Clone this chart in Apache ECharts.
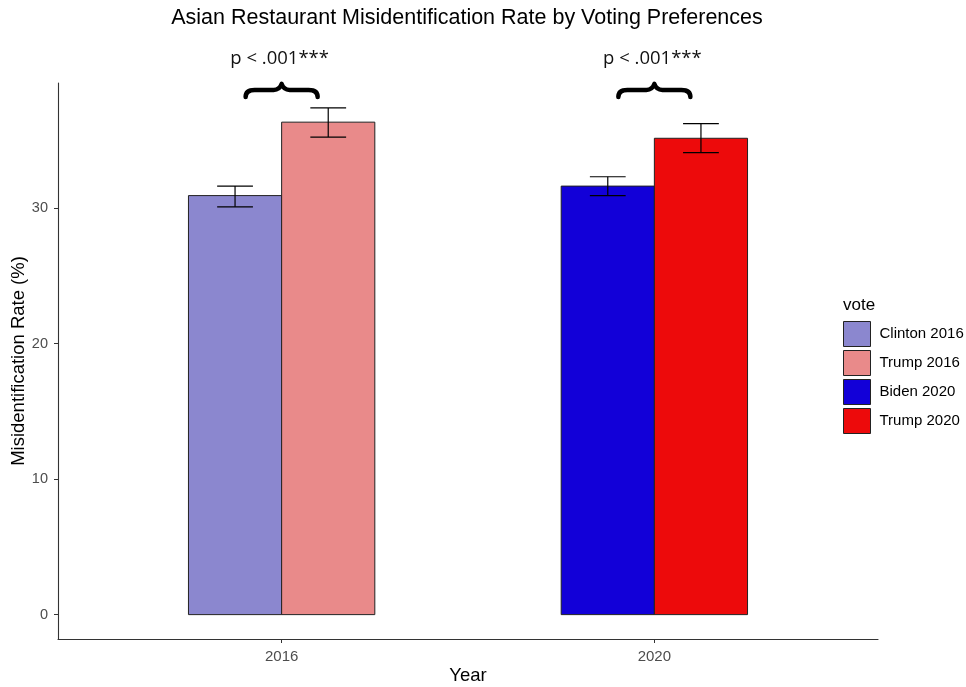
<!DOCTYPE html>
<html><head><meta charset="utf-8">
<script src="https://cdn.jsdelivr.net/npm/echarts@6/dist/echarts.min.js"></script>
<style>html,body{margin:0;padding:0;background:#fff}#c{width:966px;height:687px}</style>
</head><body><div id="c"></div>
<script>
const categories = ['2016', '2020'];
const groups = ['Clinton 2016', 'Trump 2016', 'Biden 2020', 'Trump 2020'];
const groupYear = [1, 1, 2, 2];
const groupSide = [-1, 1, -1, 1];
const means = [30.93, 36.35, 31.63, 35.16];
const lower = [30.1, 35.25, 30.92, 34.1];
const upper = [31.63, 37.4, 32.32, 36.24];
const colors = ['#8B87CF', '#E98A8A', '#1200D8', '#ED0A0B'];
const yTicks = [0, 10, 20, 30];
const pLabels = ['p < .001***', 'p < .001***'];

const BAR_W = 0.25, CAP_HALF = 0.048;
const font = 'Liberation Sans, Arial, sans-serif';

const series = groups.map((g, i) => ({
  type: 'custom', name: g, clip: false,
  itemStyle: { color: colors[i] },
  data: [[groupYear[i] + groupSide[i] * BAR_W / 2, means[i], lower[i], upper[i]]],
  renderItem: function (params, api) {
    const x = api.value(0), v = api.value(1), lo = api.value(2), hi = api.value(3);
    const p0 = api.coord([x - BAR_W / 2, 0]);
    const p1 = api.coord([x + BAR_W / 2, v]);
    const cL = api.coord([x - CAP_HALF, hi]), cR = api.coord([x + CAP_HALF, hi]);
    const dL = api.coord([x - CAP_HALF, lo]), dR = api.coord([x + CAP_HALF, lo]);
    const ls = { stroke: '#000', lineWidth: 1.2 };
    return { type: 'group', children: [
      { type: 'rect', shape: { x: p0[0], y: p1[1], width: p1[0] - p0[0], height: p0[1] - p1[1] },
        style: { fill: colors[i], stroke: '#222', lineWidth: 1 } },
      { type: 'line', shape: { x1: cL[0], y1: cL[1], x2: cR[0], y2: cR[1] }, style: ls },
      { type: 'line', shape: { x1: dL[0], y1: dL[1], x2: dR[0], y2: dR[1] }, style: ls },
      { type: 'line', shape: { x1: (cL[0] + cR[0]) / 2, y1: cL[1], x2: (cL[0] + cR[0]) / 2, y2: dL[1] }, style: ls }
    ]};
  }
}));

series.push({
  type: 'custom', name: 'annot', clip: false, silent: true,
  data: categories.map((c, i) => [i + 1, 38.73, i]),
  renderItem: function (params, api) {
    const c = api.coord([api.value(0), api.value(1)]);
    const cx = c[0], cy = c[1];
    const path = 'M' + (cx - 36) + ',' + (cy + 7) +
      ' Q' + (cx - 36) + ',' + cy + ' ' + (cx - 27) + ',' + cy +
      ' L' + (cx - 8) + ',' + cy +
      ' Q' + (cx - 2) + ',' + cy + ' ' + cx + ',' + (cy - 6) +
      ' Q' + (cx + 2) + ',' + cy + ' ' + (cx + 8) + ',' + cy +
      ' L' + (cx + 27) + ',' + cy +
      ' Q' + (cx + 36) + ',' + cy + ' ' + (cx + 36) + ',' + (cy + 7);
    return { type: 'group', children: [
      { type: 'path', shape: { pathData: path }, style: { fill: 'none', stroke: '#000', lineWidth: 4.5, lineCap: 'round', lineJoin: 'round' } },
      { type: 'text', x: cx - 2, y: cy - 31, style: { text: pLabels[api.value(2)], font: '18.5px "Open Sans", sans-serif', fill: '#111', align: 'center', verticalAlign: 'middle' } }
    ]};
  }
});

const chart = echarts.init(document.getElementById('c'), null, { renderer: 'canvas' });
chart.setOption({
  animation: false,
  backgroundColor: '#fff',
  title: [
    { text: 'Asian Restaurant Misidentification Rate by Voting Preferences', left: 462, top: 2, textAlign: 'center',
      textStyle: { fontFamily: font, fontSize: 21.5, fontWeight: 'normal', color: '#000' } },
    { text: 'vote', left: 838, top: 292, textStyle: { fontFamily: font, fontSize: 17, fontWeight: 'normal', color: '#000' } }
  ],
  grid: { left: 58, right: 88, top: 83, bottom: 48, containLabel: false, outerBoundsMode: 'none' },
  legend: {
    data: groups, orient: 'vertical', left: 838, top: 316, itemWidth: 27, itemHeight: 25, itemGap: 3,
    icon: 'rect', itemStyle: { borderColor: '#222', borderWidth: 1 },
    textStyle: { fontFamily: font, fontSize: 15, color: '#000', padding: [0, 0, 0, 4] }
  },
  xAxis: {
    type: 'value', min: 0.4, max: 2.6,
    name: 'Year', nameLocation: 'middle', nameGap: 27, nameMoveOverlap: false,
    nameTextStyle: { fontFamily: font, fontSize: 18.5, color: '#000' },
    axisLine: { show: true, onZero: false, lineStyle: { color: '#333', width: 1.1 } },
    axisTick: { show: true, length: 4, customValues: [1, 2], lineStyle: { color: '#333' } },
    axisLabel: { customValues: [1, 2], formatter: v => categories[Math.round(v) - 1], fontFamily: font, fontSize: 15, color: '#4d4d4d', margin: 10 },
    splitLine: { show: false }
  },
  yAxis: {
    type: 'value', min: -1.8, max: 39.24,
    name: 'Misidentification Rate (%)', nameLocation: 'middle', nameGap: 30, nameMoveOverlap: false,
    nameTextStyle: { fontFamily: font, fontSize: 18.5, color: '#000' },
    axisLine: { show: true, onZero: false, lineStyle: { color: '#333', width: 1.1 } },
    axisTick: { show: true, length: 4, customValues: yTicks, lineStyle: { color: '#333' } },
    axisLabel: { customValues: yTicks, fontFamily: font, fontSize: 14.5, color: '#4d4d4d', margin: 10 },
    splitLine: { show: false }
  },
  series: series
});
</script></body></html>
